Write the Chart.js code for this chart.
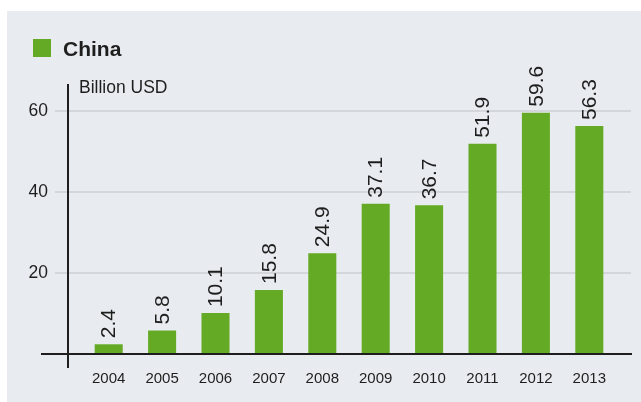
<!DOCTYPE html>
<html>
<head>
<meta charset="utf-8">
<script src="https://cdn.jsdelivr.net/npm/chart.js@4"></script>
<style>
  html, body { margin: 0; padding: 0; background: #ffffff; }
  #wrap { position: relative; width: 641px; height: 402px; }
</style>
</head>
<body>
<div id="wrap"><canvas id="grafico" width="641" height="402"></canvas></div>
<script>
// dados do gráfico (bilhões de USD)
const anos = ['2004', '2005', '2006', '2007', '2008', '2009', '2010', '2011', '2012', '2013'];
const valoresChina = [2.4, 5.8, 10.1, 15.8, 24.9, 37.1, 36.7, 51.9, 59.6, 56.3];
const ticksY = [20, 40, 60];
const nomeSerie = 'China';
const unidade = 'Billion USD';

const VERDE = '#64aa25';
const FUNDO = '#e8ecf0';
const GRADE = '#d3d7db';
const TEXTO = '#1e1e1e';
const FONTE = "'Liberation Sans', Arial, sans-serif";

// painel cinza, grade, eixos, legenda e rótulos dos valores
const decoracao = {
  id: 'decoracao',
  beforeDraw(chart) {
    const ctx = chart.ctx;
    const y = chart.scales.y;
    ctx.save();
    ctx.fillStyle = FUNDO;
    ctx.fillRect(7, 11, chart.width - 7, chart.height - 11);

    // linhas de grade
    ctx.strokeStyle = GRADE;
    ctx.lineWidth = 2;
    ticksY.forEach(v => {
      const py = Math.round(y.getPixelForValue(v));
      ctx.beginPath();
      ctx.moveTo(55, py);
      ctx.lineTo(631, py);
      ctx.stroke();
    });
    ctx.restore();
  },
  afterDatasetsDraw(chart) {
    const ctx = chart.ctx;
    const y = chart.scales.y;
    const zero = Math.round(y.getPixelForValue(0));
    ctx.save();

    // eixos
    ctx.strokeStyle = TEXTO;
    ctx.lineWidth = 2;
    ctx.beginPath();
    ctx.moveTo(41, zero);
    ctx.lineTo(632, zero);
    ctx.moveTo(68, 84);
    ctx.lineTo(68, 368);
    ctx.stroke();

    // unidade
    ctx.fillStyle = TEXTO;
    ctx.font = '17.5px ' + FONTE;
    ctx.textAlign = 'left';
    ctx.textBaseline = 'alphabetic';
    ctx.fillText(unidade, 79, 93);

    // legenda
    ctx.fillStyle = VERDE;
    ctx.fillRect(33, 39, 18, 18);
    ctx.fillStyle = TEXTO;
    ctx.font = 'bold 21px ' + FONTE;
    ctx.fillText(nomeSerie, 63, 56);

    // valores sobre as barras
    const meta = chart.getDatasetMeta(0);
    ctx.font = '21px ' + FONTE;
    ctx.textAlign = 'left';
    ctx.textBaseline = 'middle';
    meta.data.forEach((barra, i) => {
      ctx.save();
      ctx.translate(barra.x + 1, barra.y - 6);
      ctx.rotate(-Math.PI / 2);
      ctx.fillText(valoresChina[i].toFixed(1), 0, 0);
      ctx.restore();
    });
    ctx.restore();
  }
};

new Chart(document.getElementById('grafico'), {
  type: 'bar',
  data: {
    labels: anos,
    datasets: [{
      label: nomeSerie,
      data: valoresChina,
      backgroundColor: VERDE,
      borderWidth: 0,
      categoryPercentage: 1,
      barPercentage: 0.525
    }]
  },
  options: {
    responsive: false,
    animation: false,
    events: [],
    layout: { padding: { left: 0, right: 25, top: 84, bottom: 0 } },
    plugins: {
      legend: { display: false },
      tooltip: { enabled: false }
    },
    scales: {
      x: {
        grid: { display: false, drawTicks: false },
        border: { display: false },
        ticks: {
          color: TEXTO,
          font: { family: FONTE, size: 15 },
          padding: 16,
          maxRotation: 0
        },
        afterFit: (s) => { s.height = 48; }
      },
      y: {
        min: 0,
        max: 66.67,
        grid: { display: false, drawTicks: false },
        border: { display: false },
        afterBuildTicks: (s) => { s.ticks = ticksY.map(v => ({ value: v })); },
        ticks: {
          color: TEXTO,
          font: { family: FONTE, size: 17.5 },
          padding: 34
        },
        afterFit: (s) => { s.width = 82; }
      }
    }
  },
  plugins: [decoracao]
});
</script>
</body>
</html>
